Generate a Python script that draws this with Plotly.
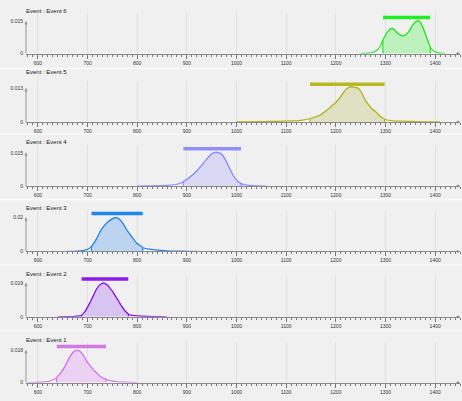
import plotly.graph_objects as go

W, H = 462, 401

# Panel order, top to bottom
events = ["Event 6", "Event 5", "Event 4", "Event 3", "Event 2", "Event 1"]

# Posterior probability densities (calendar year, density)
e6_x = [1250, 1265, 1275, 1280, 1285, 1290, 1295, 1300, 1305, 1313, 1318, 1323, 1330, 1335,
        1341, 1347, 1352, 1357, 1365, 1370, 1375, 1380, 1385, 1390, 1395, 1400, 1410, 1420]
e6_y = [0, 0.0002, 0.0006, 0.0012, 0.002, 0.0038, 0.0062, 0.0085, 0.0103, 0.0117, 0.0111, 0.0097,
        0.0086, 0.0082, 0.0088, 0.0102, 0.0122, 0.0139, 0.0152, 0.0145, 0.0122, 0.0092, 0.006,
        0.003, 0.0016, 0.0008, 0.0002, 0]

e5_x = [1000, 1050, 1100, 1130, 1148, 1160, 1171, 1180, 1190, 1201, 1210, 1220, 1228, 1237,
        1245, 1252, 1258, 1265, 1272, 1281, 1290, 1298, 1310, 1330, 1360, 1410]
e5_y = [0, 0.0001, 0.0003, 0.0006, 0.0012, 0.002, 0.0029, 0.0042, 0.0058, 0.0077, 0.0098, 0.0125,
        0.0135, 0.0134, 0.013, 0.0112, 0.0088, 0.0068, 0.0052, 0.0037, 0.002, 0.001, 0.0005,
        0.0003, 0.0001, 0]

e4_x = [800, 830, 860, 875, 885, 893, 900, 910, 920, 930, 940, 950, 958, 965, 972, 980, 987,
        995, 1002, 1009, 1020, 1040, 1060]
e4_y = [0, 0.0001, 0.0003, 0.0006, 0.0011, 0.002, 0.003, 0.0048, 0.0068, 0.0095, 0.0122, 0.0145,
        0.0152, 0.015, 0.0138, 0.0108, 0.0075, 0.0042, 0.0022, 0.0011, 0.0004, 0.0001, 0]

e3_x = [660, 680, 690, 700, 708, 715, 720, 725, 730, 740, 750, 758, 765, 770, 779, 790, 799,
        811, 820, 840, 860, 880, 900, 920]
e3_y = [0, 0.0002, 0.0005, 0.0012, 0.0028, 0.0058, 0.0085, 0.0115, 0.0138, 0.0172, 0.0193, 0.02,
        0.0188, 0.017, 0.0127, 0.0082, 0.0048, 0.0022, 0.0015, 0.0008, 0.0004, 0.0002, 0.0001, 0]

e2_x = [640, 660, 675, 688, 695, 705, 712, 718, 725, 732, 740, 746, 752, 760, 769, 776, 782,
        790, 800, 820, 840, 860]
e2_y = [0, 0.0001, 0.0003, 0.0008, 0.003, 0.008, 0.012, 0.0155, 0.018, 0.019, 0.0178, 0.0158,
        0.0135, 0.0098, 0.0057, 0.003, 0.0015, 0.0008, 0.0005, 0.0002, 0.0001, 0]

e1_x = [580, 600, 615, 625, 638, 645, 652, 658, 665, 672, 678, 685, 692, 698, 705, 712, 718,
        725, 730, 737, 745, 760, 780, 800]
e1_y = [0, 0.0001, 0.0004, 0.0009, 0.0028, 0.005, 0.0078, 0.011, 0.0145, 0.0172, 0.018, 0.0173,
        0.015, 0.012, 0.0095, 0.007, 0.0055, 0.0035, 0.0026, 0.0018, 0.0011, 0.0005, 0.0002, 0]

# 95.4% ranges (start, end)
range_lo = [1295, 1148, 893, 708, 688, 638]
range_hi = [1390, 1298, 1009, 811, 782, 737]

# Y-axis top tick (peak density) and its label
peak_vals = [0.015, 0.013, 0.015, 0.02, 0.019, 0.018]
peak_text = ["0.015", "0.013", "0.015", "0.02", "0.019", "0.018"]

xs_all = [e6_x, e5_x, e4_x, e3_x, e2_x, e1_x]
ys_all = [e6_y, e5_y, e4_y, e3_y, e2_y, e1_y]

line_cols = ["#22e622", "#b4b41c", "#8c8cff", "#2484f0", "#8a14f0", "#d274f0"]
fill_cols = ["#bdf0bd", "#e0e0c2", "#d8d8f2", "#bcd4f0", "#d8c4f0", "#ecd2f2"]
bar_cols = ["#22ee22", "#b8b820", "#8f8ff5", "#1e88f0", "#8a1aee", "#d07ae8"]

# Panel geometry in pixels: zero line, top tick, title row
zero_px = [54, 122.8, 187.5, 253.3, 319.2, 385.5]
top_px = [21.5, 89, 154, 219.3, 285.2, 353]
title_px = [11, 72.7, 142.7, 209.3, 275.7, 342.3]
sep_px = [69, 135, 201, 267, 333]
PANEL_H = 41

FONT = "Liberation Sans"
TXT = "#333"

fig = go.Figure()
layout = dict(
    width=W, height=H, margin=dict(l=0, r=0, t=0, b=0),
    paper_bgcolor="#f0f0f0", plot_bgcolor="rgba(0,0,0,0)",
    showlegend=False, font=dict(family=FONT, size=5, color=TXT),
)
shapes, annotations = [], []

for i, name in enumerate(events):
    n = i + 1
    xa = "x" if n == 1 else f"x{n}"
    ya = "y" if n == 1 else f"y{n}"
    xs, ys = xs_all[i], ys_all[i]
    lo, hi = range_lo[i], range_hi[i]
    top = peak_vals[i]
    scale = PANEL_H / (zero_px[i] - top_px[i])

    # whole distribution
    fig.add_trace(go.Scatter(
        x=xs, y=ys, xaxis=xa, yaxis=ya, mode="lines",
        line=dict(color=line_cols[i], width=1.2, shape="spline", smoothing=0.6),
        fill="tozeroy", fillcolor="rgba(255,255,255,0.6)", hoverinfo="skip"))

    # shaded highest-density range
    rx = [x for x in xs if lo <= x <= hi]
    ry = [y for x, y in zip(xs, ys) if lo <= x <= hi]
    fig.add_trace(go.Scatter(
        x=[lo] + rx + [hi], y=[0] + ry + [0], xaxis=xa, yaxis=ya, mode="lines",
        line=dict(color=line_cols[i], width=1.2, shape="spline", smoothing=0.6),
        fill="toself", fillcolor=fill_cols[i], hoverinfo="skip"))

    # range bar above the distribution
    fig.add_trace(go.Scatter(
        x=[lo, hi], y=[top * 1.12, top * 1.12], xaxis=xa, yaxis=ya, mode="lines",
        line=dict(color=bar_cols[i], width=3.5), hoverinfo="skip"))

    y0 = 1 - zero_px[i] / H
    y1 = 1 - (zero_px[i] - PANEL_H) / H
    layout[f"xaxis{n if n > 1 else ''}"] = dict(
        domain=[26 / W, 460 / W], range=[576, 1450], anchor=ya,
        tick0=0, dtick=100, ticks="outside", ticklen=4, tickwidth=1, tickcolor="#777",
        showline=True, linecolor="#8a8a8a", linewidth=1,
        showgrid=True, gridcolor="#e0e0e0", gridwidth=1, zeroline=False,
        tickfont=dict(family=FONT, size=5, color=TXT),
        minor=dict(dtick=10, tick0=0, ticks="outside", ticklen=2, tickcolor="#777",
                   showgrid=False),
    )
    layout[f"yaxis{n if n > 1 else ''}"] = dict(
        domain=[y0, y1], range=[0, top * scale], anchor=xa,
        showgrid=False, zeroline=False, showline=False, ticks="",
        tickvals=[0, top], ticktext=["0", peak_text[i]], ticklabelstandoff=2,
        tickfont=dict(family=FONT, size=5, color=TXT),
    )

    # short y-axis line up to the top tick, with arrow heads
    shapes.append(dict(type="line", xref=f"{xa} domain", yref=ya, x0=0, x1=0, y0=0, y1=top,
                       line=dict(color="#999", width=1)))
    annotations.append(dict(xref=f"{xa} domain", yref=ya, x=0, y=top, ax=0, ay=5, text="",
                            showarrow=True, arrowhead=2, arrowsize=0.6, arrowwidth=1,
                            arrowcolor="#999"))
    annotations.append(dict(xref=f"{xa} domain", yref=ya, x=1, y=0, ax=-5, ay=0, text="",
                            showarrow=True, arrowhead=2, arrowsize=0.6, arrowwidth=1,
                            arrowcolor="#888"))
    annotations.append(dict(xref="paper", yref="paper", x=24 / W, y=1 - title_px[i] / H,
                            xanchor="left", yanchor="middle", showarrow=False,
                            text=f"Event : {name}",
                            font=dict(family=FONT, size=6, color="#1a1a1a")))

for s in sep_px:
    shapes.append(dict(type="line", xref="paper", yref="paper", x0=0, x1=1,
                       y0=1 - s / H, y1=1 - s / H, line=dict(color="#fafafa", width=1.5),
                       layer="below"))

layout["shapes"] = shapes
layout["annotations"] = annotations
fig.update_layout(**layout)
fig.write_html("out.html")
